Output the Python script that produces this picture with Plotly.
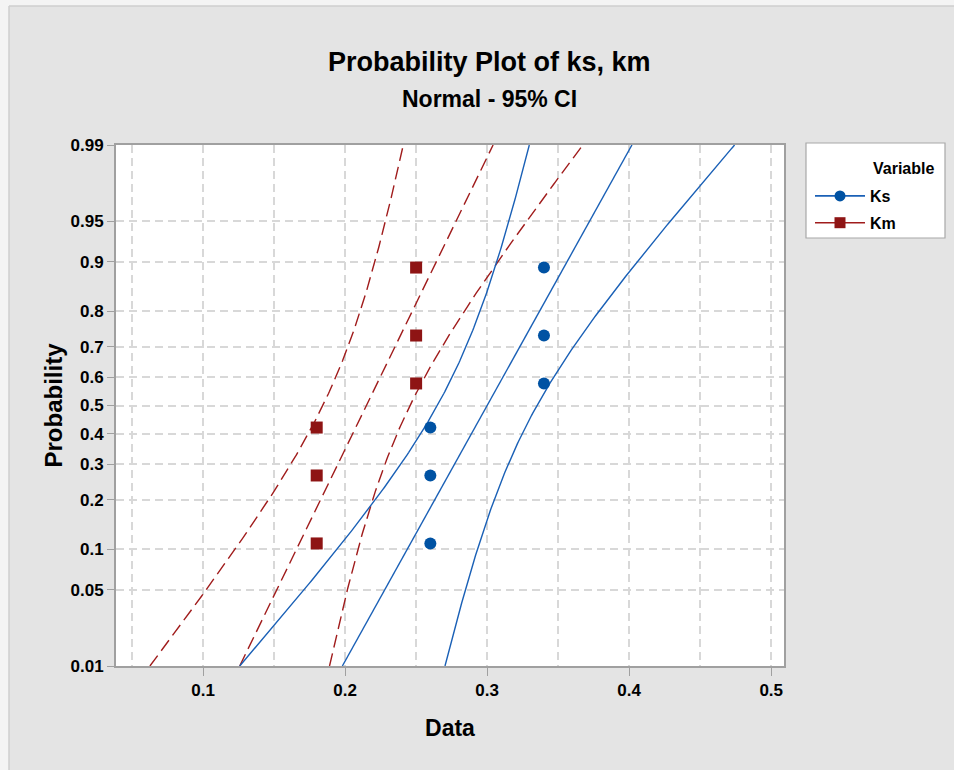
import numpy as np
import plotly.graph_objects as go
from statistics import NormalDist

# Sample values for each variable
ks_values = [0.26, 0.26, 0.26, 0.34, 0.34, 0.34]
km_values = [0.18, 0.18, 0.18, 0.25, 0.25, 0.25]

# Median-rank plotting positions of the ordered observations
plot_positions = [0.109, 0.266, 0.422, 0.578, 0.734, 0.891]

# Probability axis ticks and data axis ticks
prob_ticks = [0.01, 0.05, 0.1, 0.2, 0.3, 0.4, 0.5, 0.6, 0.7, 0.8, 0.9, 0.95, 0.99]
prob_labels = ["0.01", "0.05", "0.1", "0.2", "0.3", "0.4", "0.5",
               "0.6", "0.7", "0.8", "0.9", "0.95", "0.99"]
data_ticks = [0.1, 0.2, 0.3, 0.4, 0.5]
data_labels = ["0.1", "0.2", "0.3", "0.4", "0.5"]
data_minor = [0.05, 0.15, 0.25, 0.35, 0.45]

BLUE_LINE = "#1a60b6"
BLUE_MARK = "#0052a3"
RED_LINE = "#a01c1c"
RED_MARK = "#8e1414"
FONT = "Liberation Sans, Arial, sans-serif"

nd = NormalDist()
z_lo, z_hi = nd.inv_cdf(prob_ticks[0]), nd.inv_cdf(prob_ticks[-1])


def normal_fit(values, conf=0.95):
    """Fitted percentile line and its confidence band on the normal score scale."""
    v = np.asarray(values)
    n = len(v)
    mu, sd = v.mean(), v.std(ddof=1)
    z = np.linspace(z_lo, z_hi, 240)
    zc = nd.inv_cdf(0.5 + conf / 2)
    fit = mu + z * sd
    se = sd * np.sqrt(1.0 / n + z ** 2 / (2.0 * (n - 1)))
    return z, fit, fit - zc * se, fit + zc * se


def to_z(ps):
    return [nd.inv_cdf(p) for p in ps]


fig = go.Figure()

series = [
    ("Km", km_values, RED_LINE, RED_MARK, "square", "13px,6px"),
    ("Ks", ks_values, BLUE_LINE, BLUE_MARK, "circle", "solid"),
]

# fitted lines and confidence bounds
for name, vals, lc, mc, sym, dash in series:
    z, fit, lo, hi = normal_fit(vals)
    for xs in (lo, fit, hi):
        fig.add_trace(go.Scatter(
            x=xs, y=z, mode="lines", showlegend=False, hoverinfo="skip",
            line=dict(color=lc, width=1.4, dash=dash)))

# observed points
for name, vals, lc, mc, sym, dash in series:
    fig.add_trace(go.Scatter(
        x=sorted(vals), y=to_z(plot_positions), mode="markers", name=name,
        showlegend=False,
        marker=dict(symbol=sym, size=12, color=mc, line=dict(width=0))))

# legend entries (line with marker)
for name, vals, lc, mc, sym, dash in reversed(series):
    fig.add_trace(go.Scatter(
        x=[None], y=[None], mode="lines+markers", name="<b>%s</b>" % name,
        legendgroup=name,
        line=dict(color=lc, width=1.6),
        marker=dict(symbol=sym, size=11, color=mc)))

L, R, T, B = 116, 170, 145, 104
W, H = 954, 770
pw, ph = W - L - R, H - T - B


def px_x(x):
    return (x - L) / pw


def px_y(y):
    return (H - B - y) / ph


shapes = [
    # outer frame
    dict(type="rect", xref="paper", yref="paper", x0=px_x(0), x1=px_x(9),
         y0=px_y(H), y1=px_y(0), fillcolor="#f4f4f4", line=dict(width=0), layer="below"),
    dict(type="rect", xref="paper", yref="paper", x0=px_x(0), x1=px_x(W),
         y0=px_y(6), y1=px_y(0), fillcolor="#f4f4f4", line=dict(width=0), layer="below"),
    dict(type="line", xref="paper", yref="paper", x0=px_x(9), x1=px_x(9),
         y0=px_y(H), y1=px_y(6), line=dict(color="#cfcfcf", width=1.5), layer="below"),
    dict(type="line", xref="paper", yref="paper", x0=px_x(9), x1=px_x(W),
         y0=px_y(6), y1=px_y(6), line=dict(color="#cfcfcf", width=1.5), layer="below"),
    # legend box
    dict(type="rect", xref="paper", yref="paper", x0=px_x(806), x1=px_x(945),
         y0=px_y(238), y1=px_y(143), fillcolor="white",
         line=dict(color="#a8a8a8", width=1.2), layer="below"),
]

annotations = [
    dict(text="<b>Probability Plot of ks, km</b>", xref="paper", yref="paper",
         x=px_x(489), y=px_y(62), showarrow=False, xanchor="center", yanchor="middle",
         font=dict(family=FONT, size=27, color="black")),
    dict(text="<b>Normal - 95% CI</b>", xref="paper", yref="paper",
         x=px_x(489), y=px_y(99), showarrow=False, xanchor="center", yanchor="middle",
         font=dict(family=FONT, size=23, color="black")),
    dict(text="<b>Variable</b>", xref="paper", yref="paper",
         x=px_x(871), y=px_y(168), showarrow=False, xanchor="left", yanchor="middle",
         font=dict(family=FONT, size=16, color="black")),
]

fig.update_layout(
    width=W, height=H,
    margin=dict(l=L, r=R, t=T, b=B, pad=0),
    paper_bgcolor="#e4e4e4",
    plot_bgcolor="white",
    shapes=shapes,
    annotations=annotations,
    legend=dict(x=px_x(810), y=px_y(179), xanchor="left", yanchor="top",
                bgcolor="rgba(0,0,0,0)", borderwidth=0, itemwidth=50,
                tracegroupgap=3,
                font=dict(family=FONT, size=16, color="black")),
    xaxis=dict(
        range=[0.0387, 0.509], tickvals=data_ticks,
        ticktext=["<b>%s</b>" % t for t in data_labels],
        ticks="outside", ticklen=8, tickwidth=1.3, tickcolor="#a0a0a0",
        showline=True, linecolor="#a0a0a0", linewidth=2, mirror=True,
        showgrid=True, gridcolor="#d8d8d8", gridwidth=1.5, griddash="8px,5px",
        minor=dict(tickvals=data_minor, showgrid=True, gridcolor="#d8d8d8",
                   gridwidth=1.5, griddash="8px,5px", ticks=""),
        zeroline=False,
        tickfont=dict(family=FONT, size=17, color="black"),
        title=dict(text="<b>Data</b>", standoff=20,
                   font=dict(family=FONT, size=23, color="black")),
    ),
    yaxis=dict(
        range=[z_lo, z_hi], tickvals=to_z(prob_ticks),
        ticktext=["<b>%s</b>" % t for t in prob_labels],
        ticks="outside", ticklen=7, tickwidth=1.3, tickcolor="#a0a0a0",
        showline=True, linecolor="#a0a0a0", linewidth=2, mirror=True,
        showgrid=True, gridcolor="#d8d8d8", gridwidth=1.5, griddash="8px,5px",
        zeroline=False,
        tickfont=dict(family=FONT, size=17, color="black"),
        title=dict(text="<b>Probability</b>", standoff=1,
                   font=dict(family=FONT, size=24, color="black")),
    ),
)

fig.write_html("out.html")
